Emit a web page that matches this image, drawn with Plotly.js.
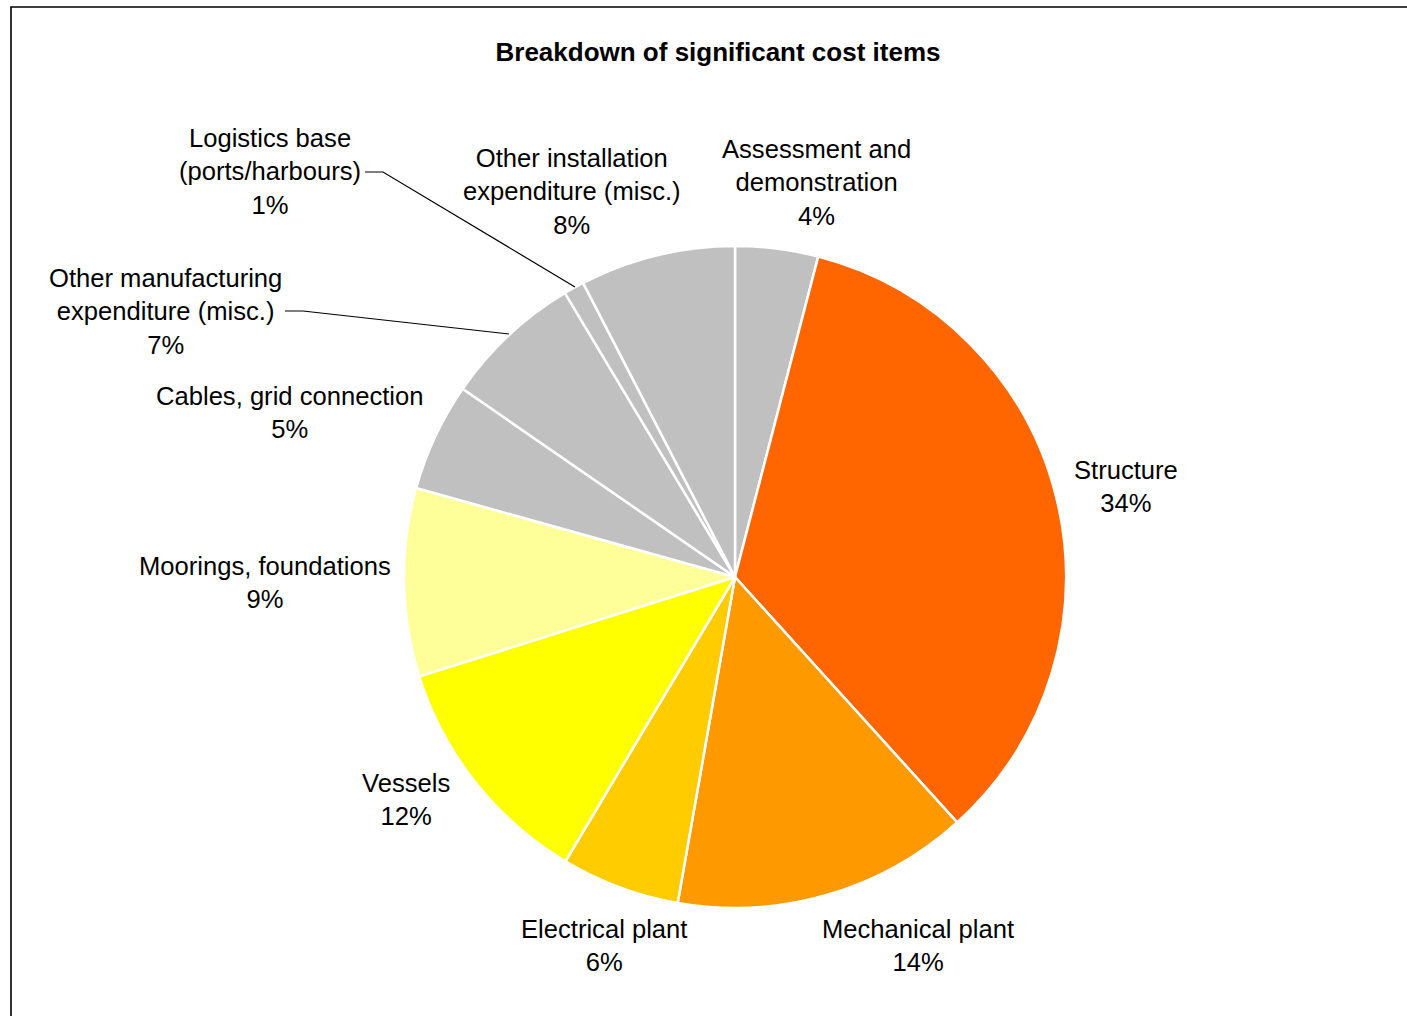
<!DOCTYPE html>
<html>
<head>
<meta charset="utf-8">
<script src="https://cdn.plot.ly/plotly-3.0.1.min.js"></script>
<style>html,body{margin:0;padding:0;background:#fff;}#chart{width:1407px;height:1016px;}</style>
</head>
<body>
<div id="chart"></div>
<script>
const categories = [
  "Assessment and demonstration",
  "Structure",
  "Mechanical plant",
  "Electrical plant",
  "Vessels",
  "Moorings, foundations",
  "Cables, grid connection",
  "Other manufacturing expenditure (misc.)",
  "Logistics base (ports/harbours)",
  "Other installation expenditure (misc.)"
];
const displayLabels = [
  "Assessment and<br>demonstration",
  "Structure",
  "Mechanical plant",
  "Electrical plant",
  "Vessels",
  "Moorings, foundations",
  "Cables, grid connection",
  "Other manufacturing<br>expenditure (misc.)",
  "Logistics base<br>(ports/harbours)",
  "Other installation<br>expenditure (misc.)"
];
const values = [4.05, 34.3, 14.5, 5.8, 11.6, 9.2, 5.3, 6.8, 1.0, 7.6];
const colors = ["#C0C0C0", "#FF6600", "#FF9900", "#FFCC00", "#FFFF00", "#FFFF99", "#C0C0C0", "#C0C0C0", "#C0C0C0", "#C0C0C0"];

// label block centres in pixels (layout only)
const labelPos = [
  [816, 182], [1126, 486], [918, 945], [604, 945], [406, 799],
  [265, 582], [289, 413], [165, 311], [270, 171], [572, 191]
];

const W = 1407, H = 1016;
const cx = 735, cy = 577, R = 331;
const total = values.reduce((a, b) => a + b, 0);
const px = x => x / W;
const py = y => 1 - y / H;

const annotations = categories.map((c, i) => ({
  xref: 'paper', yref: 'paper',
  x: px(labelPos[i][0]), y: py(labelPos[i][1]),
  xanchor: 'center', yanchor: 'middle', align: 'center',
  showarrow: false,
  text: displayLabels[i] + '<br>' + Math.round(values[i] / total * 100) + '%',
  font: {family: 'Liberation Sans, Arial, sans-serif', size: 25.6, color: '#000'}
}));

const line = {color: '#000', width: 1.2};
const shapes = [
  {type: 'rect', xref: 'paper', yref: 'paper', x0: px(11), x1: px(1420), y0: py(1030), y1: py(7),
   line: {color: '#000', width: 1.6}, fillcolor: 'rgba(0,0,0,0)'},
  {type: 'path', xref: 'paper', yref: 'paper',
   path: `M ${px(365)} ${py(172)} L ${px(383)} ${py(172)} L ${px(575)} ${py(287)}`, line: line},
  {type: 'path', xref: 'paper', yref: 'paper',
   path: `M ${px(285)} ${py(311)} L ${px(303)} ${py(311)} L ${px(509)} ${py(334)}`, line: line}
];

const trace = {
  type: 'pie',
  labels: categories,
  values: values,
  sort: false,
  direction: 'clockwise',
  rotation: 0,
  textinfo: 'none',
  hoverinfo: 'label+percent',
  marker: {colors: colors, line: {color: '#FFFFFF', width: 2.5}},
  domain: {x: [px(cx - R), px(cx + R)], y: [py(cy + R), py(cy - R)]},
  showlegend: false
};

const layout = {
  width: W, height: H,
  margin: {l: 0, r: 0, t: 0, b: 0},
  paper_bgcolor: '#fff',
  title: {text: '<b>Breakdown of significant cost items</b>', x: 718 / W, xanchor: 'center', y: py(52), yanchor: 'middle',
          font: {family: 'Liberation Sans, Arial, sans-serif', size: 26, color: '#000'}},
  annotations: annotations,
  shapes: shapes,
  showlegend: false
};

Plotly.newPlot('chart', [trace], layout, {displayModeBar: false, staticPlot: true});
</script>
</body>
</html>
